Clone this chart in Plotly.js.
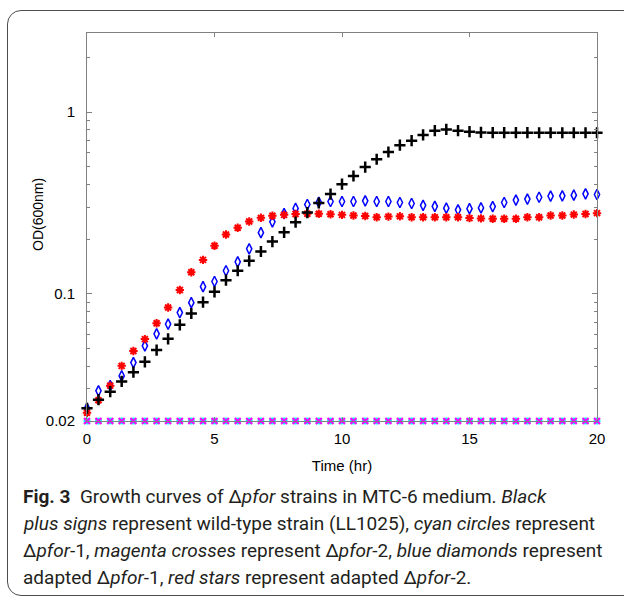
<!DOCTYPE html>
<html>
<head>
<meta charset="utf-8">
<script src="https://cdn.plot.ly/plotly-3.0.1.min.js"></script>
<style>
  html, body { margin: 0; padding: 0; background: #ffffff; }
  #wrap { position: relative; width: 624px; height: 598px; overflow: hidden; }
  #chart { position: absolute; left: 0; top: 0; width: 624px; height: 598px; }
  #frame { position: absolute; left: 7px; top: 10px; width: 630px; height: 586px;
           border: 1.5px solid #4d4d4d; border-radius: 14px; pointer-events: none; box-sizing: border-box; }
</style>
</head>
<body>
<div id="wrap">
  <div id="chart"></div>
  <div id="frame"></div>
</div>
<script>
// Time points (hr)
const timeHr = [0, 0.45, 0.91, 1.36, 1.82, 2.27, 2.73, 3.18, 3.64, 4.09, 4.55, 5, 5.45, 5.91, 6.36,
  6.82, 7.27, 7.73, 8.18, 8.64, 9.09, 9.55, 10, 10.45, 10.91, 11.36, 11.82, 12.27, 12.73, 13.18,
  13.64, 14.09, 14.55, 15, 15.45, 15.91, 16.36, 16.82, 17.27, 17.73, 18.18, 18.64, 19.09, 19.55, 20];

// Wild-type strain (LL1025) - black plus signs
const wildType = [0.0235, 0.0262, 0.029, 0.033, 0.0371, 0.0423, 0.0491, 0.0566, 0.0676, 0.078,
  0.090, 0.1026, 0.119, 0.134, 0.152, 0.171, 0.194, 0.218, 0.248, 0.280, 0.316, 0.354, 0.401,
  0.445, 0.498, 0.550, 0.603, 0.657, 0.696, 0.748, 0.790, 0.802, 0.790, 0.780, 0.772, 0.770,
  0.770, 0.770, 0.770, 0.769, 0.769, 0.769, 0.769, 0.769, 0.769];

// Δpfor-1 - cyan circles
const pfor1 = [0.02, 0.02, 0.02, 0.02, 0.02, 0.02, 0.02, 0.02, 0.02, 0.02, 0.02, 0.02, 0.02, 0.02, 0.02,
  0.02, 0.02, 0.02, 0.02, 0.02, 0.02, 0.02, 0.02, 0.02, 0.02, 0.02, 0.02, 0.02, 0.02, 0.02,
  0.02, 0.02, 0.02, 0.02, 0.02, 0.02, 0.02, 0.02, 0.02, 0.02, 0.02, 0.02, 0.02, 0.02, 0.02];

// Δpfor-2 - magenta crosses
const pfor2 = [0.02, 0.02, 0.02, 0.02, 0.02, 0.02, 0.02, 0.02, 0.02, 0.02, 0.02, 0.02, 0.02, 0.02, 0.02,
  0.02, 0.02, 0.02, 0.02, 0.02, 0.02, 0.02, 0.02, 0.02, 0.02, 0.02, 0.02, 0.02, 0.02, 0.02,
  0.02, 0.02, 0.02, 0.02, 0.02, 0.02, 0.02, 0.02, 0.02, 0.02, 0.02, 0.02, 0.02, 0.02, 0.02];

// adapted Δpfor-1 - blue diamonds
const adapted1 = [0.0235, 0.0293, 0.0313, 0.0354, 0.0419, 0.0518, 0.0603, 0.0682, 0.0789, 0.0895,
  0.1096, 0.117, 0.134, 0.150, 0.177, 0.217, 0.249, 0.276, 0.295, 0.310, 0.319, 0.322, 0.322,
  0.322, 0.325, 0.322, 0.322, 0.318, 0.314, 0.307, 0.303, 0.296, 0.290, 0.294, 0.297, 0.302,
  0.318, 0.328, 0.332, 0.340, 0.345, 0.346, 0.349, 0.355, 0.352];

// adapted Δpfor-2 - red stars
const adapted2 = [0.0222, 0.026, 0.0313, 0.0402, 0.0485, 0.0564, 0.069, 0.0841, 0.105, 0.1316,
  0.1538, 0.184, 0.212, 0.231, 0.250, 0.262, 0.269, 0.272, 0.275, 0.276, 0.276, 0.274, 0.272,
  0.270, 0.268, 0.264, 0.266, 0.267, 0.264, 0.264, 0.264, 0.264, 0.264, 0.261, 0.260, 0.259,
  0.259, 0.259, 0.264, 0.264, 0.270, 0.270, 0.273, 0.275, 0.278];

const xTickVals = [0, 5, 10, 15, 20];
const yTickVals = [0.02, 0.1, 1];
const yTickText = ['0.02', '0.1', '1'];
const yMinorVals = [0.03, 0.04, 0.05, 0.06, 0.07, 0.08, 0.09, 0.2, 0.3, 0.4, 0.5, 0.6, 0.7, 0.8, 0.9, 2];

const yTitle = 'OD(600nm)';
const xTitle = 'Time (hr)';

const captionLines = [
  '<b>Fig. 3</b>  Growth curves of Δ<i>pfor</i> strains in MTC-6 medium. <i>Black</i>',
  '<i>plus signs</i> represent wild-type strain (LL1025), <i>cyan circles</i> represent',
  'Δ<i>pfor</i>-1, <i>magenta crosses</i> represent Δ<i>pfor</i>-2, <i>blue diamonds</i> represent',
  'adapted Δ<i>pfor</i>-1, <i>red stars</i> represent adapted Δ<i>pfor</i>-2.'
];

const traces = [
  { x: timeHr, y: pfor1, type: 'scatter', mode: 'markers', cliponaxis: false, name: 'Δpfor-1',
    marker: { symbol: 'circle', size: 7, color: '#00ffff', line: { width: 0 } } },
  { x: timeHr, y: pfor2, type: 'scatter', mode: 'markers', cliponaxis: false, name: 'Δpfor-2',
    marker: { symbol: 'x-thin', size: 6, color: '#ff00ff', line: { width: 2, color: '#ff00ff' } } },
  { x: timeHr, y: adapted1, type: 'scatter', mode: 'markers', cliponaxis: false, name: 'adapted Δpfor-1',
    marker: { symbol: 'diamond-tall-open', size: 7.5, color: '#0000ff', line: { width: 1.5, color: '#0000ff' } } },
  { x: timeHr, y: adapted2, type: 'scatter', mode: 'markers', cliponaxis: false, name: 'adapted Δpfor-2',
    marker: { symbol: 'asterisk-open', size: 7, color: '#ff0000', line: { width: 2, color: '#ff0000' } } },
  { x: timeHr, y: wildType, type: 'scatter', mode: 'markers', cliponaxis: false, name: 'wild-type',
    marker: { symbol: 'cross-thin', size: 8, color: '#000000', line: { width: 2.5, color: '#000000' } } }
];

const W = 624, H = 598, L = 87, R = 27, T = 33, B = 177;
const pw = W - L - R, ph = H - T - B;
function px2paperX(px) { return (px - L) / pw; }
function py2paperY(py) { return (H - B - py) / ph; }

const captionY = [496, 523, 550, 577];
const annotations = captionLines.map((t, i) => ({
  text: t, xref: 'paper', yref: 'paper', x: px2paperX(21), y: py2paperY(captionY[i]),
  xanchor: 'left', yanchor: 'middle', showarrow: false, align: 'left',
  font: { family: 'Roboto, sans-serif', size: 19, color: '#231f20' }
}));
annotations.push({
  text: yTitle, xref: 'paper', yref: 'paper', x: px2paperX(38), y: py2paperY(215),
  xanchor: 'center', yanchor: 'middle', textangle: -90, showarrow: false,
  font: { family: '"Liberation Sans", Arial, sans-serif', size: 14, color: '#000' }
});

const layout = {
  width: W, height: H,
  margin: { l: L, r: R, t: T, b: B },
  paper_bgcolor: '#ffffff', plot_bgcolor: '#ffffff',
  showlegend: false,
  font: { family: '"Liberation Sans", Arial, sans-serif', size: 14, color: '#000' },
  xaxis: {
    range: [0, 20], tickvals: xTickVals, ticktext: xTickVals.map(String),
    ticks: 'inside', ticklen: 4, tickwidth: 1, tickcolor: '#808080',
    showline: true, linecolor: '#808080', linewidth: 1, mirror: 'ticks',
    showgrid: false, zeroline: false, ticklabelstandoff: 4,
    tickfont: { size: 15, color: '#000' },
    title: { text: xTitle, font: { size: 15, color: '#000' }, standoff: 14 }
  },
  yaxis: {
    type: 'log', range: [Math.log10(0.02), Math.log10(2.72)],
    tickvals: yTickVals, ticktext: yTickText,
    ticks: 'inside', ticklen: 5, tickwidth: 1, tickcolor: '#808080',
    minor: { tickvals: yMinorVals, ticks: 'inside', ticklen: 3, tickcolor: '#808080', showgrid: false },
    showline: true, linecolor: '#808080', linewidth: 1, mirror: 'ticks',
    showgrid: false, zeroline: false, ticklabelstandoff: 8,
    tickfont: { size: 15, color: '#000' }
  },
  annotations: annotations
};

Plotly.newPlot('chart', traces, layout, { displayModeBar: false, staticPlot: true });
</script>
</body>
</html>
